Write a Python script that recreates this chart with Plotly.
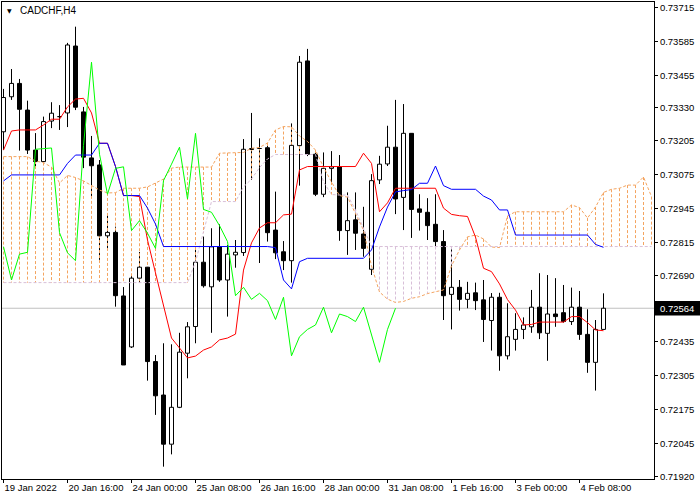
import plotly.graph_objects as go

# ---------------- data ----------------
tick_bars = [0, 8, 16, 24, 32, 40, 48, 56, 64, 72]
tick_labels = ["19 Jan 2022", "20 Jan 16:00", "24 Jan 00:00", "25 Jan 08:00", "26 Jan 16:00",
               "28 Jan 00:00", "31 Jan 08:00", "1 Feb 16:00", "3 Feb 00:00", "4 Feb 08:00"]
price_ticks = [0.73715, 0.73585, 0.73455, 0.73330, 0.73205, 0.73075, 0.72945, 0.72815,
               0.72690, 0.72435, 0.72305, 0.72175, 0.72045, 0.71920]
last_price = 0.72564

open_ = [0.73239, 0.73373, 0.73424, 0.73322, 0.73169, 0.73125, 0.73280, 0.73297, 0.73311, 0.73567,
         0.73315, 0.73139, 0.73112, 0.72841, 0.72854, 0.72611, 0.72416, 0.72679, 0.72721, 0.72360,
         0.72232, 0.72044, 0.72185, 0.72392, 0.72494, 0.72740, 0.72646, 0.72799, 0.72672, 0.72768,
         0.72777, 0.73171, 0.73175, 0.73178, 0.72863, 0.72780, 0.72746, 0.73186, 0.73510, 0.73153,
         0.73000, 0.73099, 0.73105, 0.72861, 0.72902, 0.72848, 0.72713, 0.73055, 0.73116, 0.73180,
         0.72988, 0.73233, 0.72944, 0.72931, 0.72885, 0.72819, 0.72617, 0.72644, 0.72598, 0.72623,
         0.72596, 0.72517, 0.72606, 0.72382, 0.72445, 0.72483, 0.72493, 0.72568, 0.72468, 0.72542,
         0.72547, 0.72513, 0.72568, 0.72464, 0.72357, 0.72483]
high = [0.73403, 0.73479, 0.73441, 0.73358, 0.73234, 0.73297, 0.73352, 0.73341, 0.73579, 0.73641,
        0.73334, 0.73223, 0.73131, 0.72924, 0.72876, 0.72645, 0.72687, 0.72779, 0.72722, 0.72385,
        0.72430, 0.72426, 0.72470, 0.72511, 0.72789, 0.72838, 0.72870, 0.72885, 0.72806, 0.72825,
        0.73211, 0.73311, 0.73214, 0.73185, 0.73010, 0.72821, 0.73271, 0.73529, 0.73556, 0.73165,
        0.73160, 0.73165, 0.73150, 0.73007, 0.73007, 0.72952, 0.73077, 0.73147, 0.73262, 0.73361,
        0.73345, 0.73234, 0.73000, 0.72985, 0.73000, 0.72863, 0.72793, 0.72672, 0.72665, 0.72662,
        0.72672, 0.72622, 0.72623, 0.72583, 0.72545, 0.72529, 0.72634, 0.72698, 0.72691, 0.72679,
        0.72653, 0.72643, 0.72630, 0.72560, 0.72519, 0.72621]
low = [0.73169, 0.73361, 0.73167, 0.73154, 0.73100, 0.73123, 0.73253, 0.73246, 0.73257, 0.73322,
       0.73100, 0.72989, 0.72749, 0.72787, 0.72570, 0.72347, 0.72412, 0.72662, 0.72287, 0.72156,
       0.71958, 0.72005, 0.72182, 0.72296, 0.72430, 0.72643, 0.72470, 0.72665, 0.72532, 0.72719,
       0.72764, 0.73055, 0.72737, 0.72819, 0.72752, 0.72710, 0.72662, 0.73033, 0.73146, 0.72993,
       0.72989, 0.73042, 0.72822, 0.72768, 0.72787, 0.72761, 0.72691, 0.73039, 0.73108, 0.72924,
       0.72863, 0.72833, 0.72861, 0.72825, 0.72796, 0.72519, 0.72483, 0.72555, 0.72564, 0.72557,
       0.72435, 0.72402, 0.72325, 0.72368, 0.72402, 0.72446, 0.72470, 0.72446, 0.72363, 0.72493,
       0.72509, 0.72500, 0.72443, 0.72317, 0.72249, 0.72483]
close = [0.73370, 0.73424, 0.73325, 0.73169, 0.73125, 0.73278, 0.73310, 0.73299, 0.73571, 0.73333,
         0.73142, 0.73109, 0.72841, 0.72854, 0.72612, 0.72347, 0.72679, 0.72721, 0.72360, 0.72229,
         0.72044, 0.72185, 0.72396, 0.72493, 0.72740, 0.72650, 0.72799, 0.72672, 0.72771, 0.72778,
         0.73172, 0.73175, 0.73177, 0.72853, 0.72776, 0.72746, 0.73187, 0.73505, 0.73153, 0.73000,
         0.73099, 0.73105, 0.72861, 0.72899, 0.72851, 0.72793, 0.73052, 0.73115, 0.73180, 0.72982,
         0.73233, 0.72942, 0.72931, 0.72880, 0.72819, 0.72612, 0.72644, 0.72598, 0.72621, 0.72593,
         0.72521, 0.72606, 0.72382, 0.72455, 0.72483, 0.72500, 0.72568, 0.72470, 0.72542, 0.72532,
         0.72513, 0.72568, 0.72464, 0.72357, 0.72483, 0.72564]

tenkan = [0.73169, 0.73242, 0.73246, 0.73246, 0.73246, 0.73265, 0.73287, 0.73287, 0.73334, 0.73364,
          0.73367, 0.73311, 0.73195, 0.73195, 0.73106, 0.72995, 0.72995, 0.72991, 0.72825, 0.72699,
          0.72576, 0.72450, 0.72412, 0.72374, 0.72381, 0.72404, 0.72416, 0.72443, 0.72450, 0.72465,
          0.72710, 0.72814, 0.72871, 0.72891, 0.72891, 0.72921, 0.72924, 0.73093, 0.73106, 0.73106,
          0.73106, 0.73106, 0.73106, 0.73106, 0.73106, 0.73157, 0.73118, 0.72933, 0.72967, 0.73023,
          0.73023, 0.73023, 0.73023, 0.73023, 0.73023, 0.72947, 0.72923, 0.72918, 0.72915, 0.72836,
          0.72717, 0.72704, 0.72657, 0.72597, 0.72557, 0.72500, 0.72502, 0.72511, 0.72511, 0.72511,
          0.72511, 0.72532, 0.72532, 0.72509, 0.72481, 0.72478]
kijun = [0.73051, 0.73074, 0.73074, 0.73074, 0.73074, 0.73074, 0.73074, 0.73074, 0.73118, 0.73150,
         0.73150, 0.73150, 0.73195, 0.73195, 0.73106, 0.72995, 0.72995, 0.72995, 0.72947, 0.72886,
         0.72800, 0.72800, 0.72800, 0.72800, 0.72800, 0.72800, 0.72800, 0.72800, 0.72800, 0.72800,
         0.72800, 0.72800, 0.72800, 0.72800, 0.72796, 0.72672, 0.72638, 0.72742, 0.72755, 0.72755,
         0.72755, 0.72755, 0.72755, 0.72755, 0.72755, 0.72755, 0.72787, 0.72875, 0.72951, 0.73009,
         0.73014, 0.73018, 0.73042, 0.73042, 0.73108, 0.73033, 0.73019, 0.73019, 0.73019, 0.73019,
         0.72993, 0.72978, 0.72940, 0.72940, 0.72844, 0.72844, 0.72844, 0.72844, 0.72844, 0.72844,
         0.72844, 0.72844, 0.72844, 0.72844, 0.72808, 0.72797]
span_a = [0.73144, 0.73144, 0.73144, 0.73144, 0.73127, 0.73121, 0.73104, 0.73043, 0.73072, 0.73064,
          0.73051, 0.73032, 0.73016, 0.73005, 0.73006, 0.73023, 0.73023, 0.73023, 0.73028, 0.73043,
          0.73058, 0.73100, 0.73104, 0.73104, 0.73104, 0.73104, 0.73104, 0.73157, 0.73158, 0.73158,
          0.73160, 0.73176, 0.73179, 0.73196, 0.73246, 0.73259, 0.73258, 0.73223, 0.73202, 0.73169,
          0.73104, 0.73047, 0.72995, 0.72989, 0.72928, 0.72863, 0.72726, 0.72626, 0.72599, 0.72586,
          0.72590, 0.72602, 0.72608, 0.72620, 0.72627, 0.72634, 0.72726, 0.72787, 0.72837, 0.72844,
          0.72829, 0.72798, 0.72796, 0.72917, 0.72933, 0.72933, 0.72933, 0.72933, 0.72933, 0.72933,
          0.72933, 0.72959, 0.72949, 0.72909, 0.72951, 0.73007, 0.73019, 0.73023, 0.73035, 0.73035,
          0.73066, 0.72991]
span_b = [0.72662] * 24 + [0.72741, 0.72852, 0.72972, 0.72972, 0.72972, 0.72972, 0.73028, 0.73058,
                           0.73102, 0.73135, 0.73152, 0.73152, 0.73152, 0.73152, 0.73152, 0.73152,
                           0.73047, 0.72999, 0.72997, 0.72997, 0.72940, 0.72871] + [0.72800] * 36
chikou_shift = 26

# ---------------- build ----------------
n = len(close)
half_w = 0.25
fig = go.Figure()

# wicks
wx, wy = [], []
for i in range(n):
    top = max(open_[i], close[i])
    bot = min(open_[i], close[i])
    wx += [i, i, None, i, i, None]
    wy += [high[i], top, None, bot, low[i], None]
fig.add_trace(go.Scatter(x=wx, y=wy, mode="lines", line=dict(color="black", width=1),
                         hoverinfo="skip", showlegend=False))

# kumo hatch
hx_up, hy_up, hx_dn, hy_dn = [], [], [], []
for i in range(len(span_a)):
    if span_a[i] >= span_b[i]:
        hx_up += [i, i, None]
        hy_up += [span_a[i], span_b[i], None]
    else:
        hx_dn += [i, i, None]
        hy_dn += [span_b[i], span_a[i], None]
fig.add_trace(go.Scatter(x=hx_up, y=hy_up, mode="lines",
                         line=dict(color="#F4A460", width=1, dash="3px,2px"),
                         hoverinfo="skip", showlegend=False))
fig.add_trace(go.Scatter(x=hx_dn, y=hy_dn, mode="lines",
                         line=dict(color="#D8BFD8", width=1, dash="3px,2px"),
                         hoverinfo="skip", showlegend=False))

# candle bodies
def bodies(up):
    bx, by = [], []
    for i in range(n):
        if (close[i] >= open_[i]) == up:
            o, c = open_[i], close[i]
            bx += [i - half_w, i + half_w, i + half_w, i - half_w, i - half_w, None]
            by += [o, o, c, c, o, None]
    return bx, by

bx, by = bodies(True)
fig.add_trace(go.Scatter(x=bx, y=by, mode="lines", fill="toself", fillcolor="white",
                         line=dict(color="black", width=1), hoverinfo="skip", showlegend=False))
bx, by = bodies(False)
fig.add_trace(go.Scatter(x=bx, y=by, mode="lines", fill="toself", fillcolor="black",
                         line=dict(color="black", width=1), hoverinfo="skip", showlegend=False))

# senkou spans
xs = list(range(len(span_a)))
fig.add_trace(go.Scatter(x=xs, y=span_a, mode="lines",
                         line=dict(color="#F4A460", width=1, dash="3px,2px"),
                         hoverinfo="skip", showlegend=False))
fig.add_trace(go.Scatter(x=xs, y=span_b, mode="lines",
                         line=dict(color="#D8BFD8", width=1, dash="3px,2px"),
                         hoverinfo="skip", showlegend=False))
# tenkan / kijun
fig.add_trace(go.Scatter(x=list(range(n)), y=tenkan, mode="lines",
                         line=dict(color="#FF0000", width=1), hoverinfo="skip", showlegend=False))
fig.add_trace(go.Scatter(x=list(range(n)), y=kijun, mode="lines",
                         line=dict(color="#0000FF", width=1), hoverinfo="skip", showlegend=False))
# chikou
fig.add_trace(go.Scatter(x=list(range(n - chikou_shift)), y=close[chikou_shift:], mode="lines",
                         line=dict(color="#00FF00", width=1), hoverinfo="skip", showlegend=False))

font = "Liberation Sans"
fig.update_layout(
    width=700, height=500,
    margin=dict(l=2, r=46, t=2, b=21),
    paper_bgcolor="white", plot_bgcolor="white",
    showlegend=False,
    hovermode=False,
    font=dict(family=font, size=10, color="black"),
    xaxis=dict(range=[-0.1875, 81.3125], showgrid=False, zeroline=False,
               showline=True, mirror=True, linecolor="black", linewidth=1,
               ticks="outside", ticklen=3, tickcolor="black",
               tickvals=tick_bars, ticktext=tick_labels,
               ticklabelposition="outside right", fixedrange=True,
               tickfont=dict(family=font, size=9.5, color="black")),
    yaxis=dict(range=[0.719108, 0.737354], side="right", showgrid=False, zeroline=False,
               showline=True, mirror=True, linecolor="black", linewidth=1,
               ticks="outside", ticklen=3, tickcolor="black",
               tickvals=price_ticks, tickformat=".5f", fixedrange=True,
               tickfont=dict(family=font, size=9.5, color="black")),
    shapes=[
        dict(type="line", xref="paper", yref="y", x0=0, x1=1, y0=last_price, y1=last_price,
             line=dict(color="#C0C0C0", width=1), layer="below"),
        dict(type="rect", xref="paper", yref="y", x0=1.0, x1=1.0706,
             y0=last_price - 0.00028, y1=last_price + 0.00028,
             fillcolor="black", line=dict(width=0), layer="above"),
    ],
    annotations=[
        dict(text="▼", xref="paper", yref="paper", x=0.0115, y=0.982, xanchor="center",
             yanchor="middle", showarrow=False, font=dict(family="DejaVu Sans", size=6, color="black")),
        dict(text="CADCHF,H4", xref="paper", yref="paper", x=0.0245, y=0.982, xanchor="left",
             yanchor="middle", showarrow=False, font=dict(family=font, size=10, color="black")),
        dict(text=f"{last_price:.5f}", xref="paper", yref="y", x=1.0, xshift=4, y=last_price,
             xanchor="left", yanchor="middle", showarrow=False,
             font=dict(family=font, size=9.5, color="white")),
    ],
)

fig.write_html("out.html", config={"displayModeBar": False, "staticPlot": True},
               post_script="document.body.style.margin='0px';document.body.style.overflow='hidden';")
